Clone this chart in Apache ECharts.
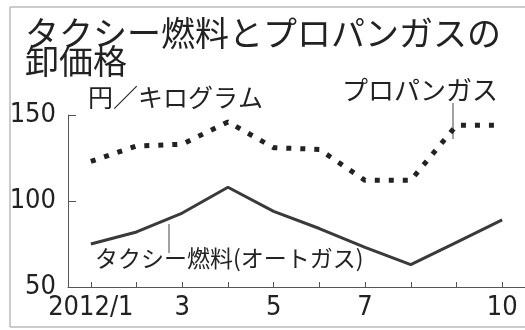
<!DOCTYPE html>
<html>
<head>
<meta charset="utf-8">
<script src="https://cdn.jsdelivr.net/npm/echarts@6/dist/echarts.min.js"></script>
<style>
  html, body { margin: 0; padding: 0; background: #fff; }
  #main { width: 525px; height: 330px; }
</style>
</head>
<body>
<div id="main"></div>
<script>
// 2012年1月〜10月（円／キログラム）
var months = ['1', '2', '3', '4', '5', '6', '7', '8', '9', '10'];
var monthLabels = { 0: '2012/1', 2: '3', 4: '5', 6: '7', 9: '10' };
var taxiFuel = [75, 82, 93, 108, 94, 84, 73, 63, 76, 89];
var propane = [123, 132, 133, 146, 131, 130, 112, 112, 144, 144];

var jp = '"Noto Sans CJK JP", "Noto Sans", sans-serif';
var num = '"Liberation Sans Narrow", "DejaVu Sans Condensed", "Liberation Sans", sans-serif';

var chart = echarts.init(document.getElementById('main'));

chart.setOption({
  backgroundColor: '#fff',
  animation: false,
  grid: { left: 68, top: 115, width: 466, bottom: 43 },
  xAxis: {
    type: 'category',
    data: months,
    boundaryGap: true,
    axisLine: { lineStyle: { color: '#555', width: 1 } },
    axisTick: { show: true, inside: true, length: 5, alignWithLabel: true, interval: 0, lineStyle: { color: '#555' } },
    axisLabel: {
      interval: function (i) { return monthLabels[i] !== undefined; },
      formatter: function (v, i) { return monthLabels[i] || ''; },
      color: '#222', fontFamily: num, fontSize: 27, margin: 7
    },
    splitLine: { show: false }
  },
  yAxis: {
    type: 'value',
    min: 50, max: 150, interval: 50,
    axisLine: { show: true, lineStyle: { color: '#555', width: 1 } },
    axisTick: { show: true, inside: true, length: 8, lineStyle: { color: '#555' } },
    axisLabel: { color: '#222', fontFamily: num, fontSize: 27, margin: 12 },
    splitLine: { show: false }
  },
  series: [
    {
      name: 'タクシー燃料(オートガス)',
      type: 'line',
      data: taxiFuel,
      symbol: 'none',
      lineStyle: { color: '#3a3a3a', width: 3 }
    },
    {
      name: 'プロパンガス',
      type: 'line',
      data: propane,
      symbol: 'none',
      lineStyle: { color: '#222', width: 5, type: [5, 9], cap: 'butt' }
    }
  ],
  graphic: [
    { type: 'rect', shape: { x: 10, y: 7, width: 530, height: 320 },
      style: { fill: 'none', stroke: '#999', lineWidth: 1 } },
    { type: 'text', left: 25, top: 16,
      style: { text: 'タクシー燃料とプロパンガスの', font: '34px ' + jp, fill: '#222' } },
    { type: 'text', left: 25, top: 44,
      style: { text: '卸価格', font: '34px ' + jp, fill: '#222' } },
    { type: 'text', left: 88, top: 85,
      style: { text: '円／キログラム', font: '25px ' + jp, fill: '#222' } },
    { type: 'text', left: 342, top: 77,
      style: { text: 'プロパンガス', font: '26px ' + jp, fill: '#222' } },
    { type: 'line', shape: { x1: 453, y1: 103, x2: 453, y2: 139 },
      style: { stroke: '#444', lineWidth: 1 } },
    { type: 'text', left: 95, top: 247,
      style: { text: 'タクシー燃料(オートガス)', font: '23px ' + jp, fill: '#222' } },
    { type: 'line', shape: { x1: 169, y1: 224, x2: 169, y2: 253 },
      style: { stroke: '#444', lineWidth: 1 } }
  ]
});
</script>
</body>
</html>
